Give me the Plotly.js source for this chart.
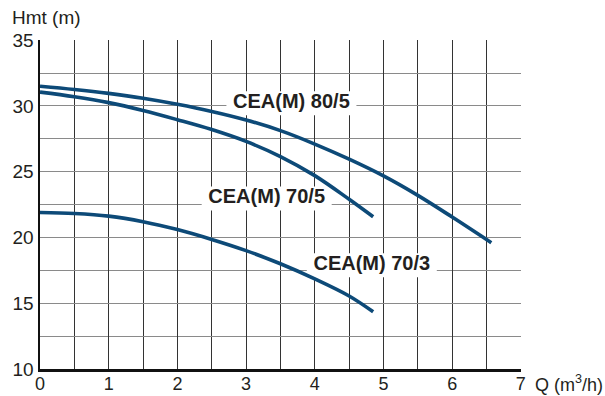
<!DOCTYPE html>
<html>
<head>
<meta charset="utf-8">
<script src="https://cdn.plot.ly/plotly-3.0.1.min.js"></script>
<style>html,body{margin:0;padding:0;background:#fff;}#chart{width:605px;height:396px;}</style>
</head>
<body>
<div id="chart"></div>
<script>
// Data: Q (m3/h) vs Hmt (m)
var q80_5 = [0, 0.5, 1, 1.5, 2, 2.5, 3, 3.5, 4, 4.5, 5, 5.5, 6, 6.57];
var h80_5 = [31.5, 31.25, 30.95, 30.58, 30.12, 29.58, 28.93, 28.12, 27.1, 25.95, 24.68, 23.2, 21.55, 19.6];

var q70_5 = [0, 0.5, 1, 1.5, 2, 2.5, 3, 3.5, 4, 4.5, 4.85];
var h70_5 = [31.05, 30.7, 30.25, 29.65, 28.95, 28.2, 27.3, 26.15, 24.7, 22.9, 21.57];

var q70_3 = [0, 0.5, 1, 1.5, 2, 2.5, 3, 3.5, 4, 4.5, 4.85];
var h70_3 = [21.9, 21.82, 21.62, 21.2, 20.6, 19.85, 19.0, 18.0, 16.85, 15.55, 14.35];

var seriesNames = ["CEA(M) 80/5", "CEA(M) 70/5", "CEA(M) 70/3"];
var labelQ = [3.66, 3.30, 4.83];
var labelH = [30.2, 22.97, 17.88];

var xTicks = [0, 1, 2, 3, 4, 5, 6, 7];
var yTicks = [10, 15, 20, 25, 30, 35];

var FONT = "Liberation Sans, Arial, sans-serif";
var lineColor = "#0d4a78";
function curve(x, y, name) {
  return {x: x, y: y, name: name, type: "scatter", mode: "lines",
          line: {color: lineColor, width: 3.6, shape: "spline", smoothing: 1}, hoverinfo: "skip"};
}

var labelTrace = {x: labelQ, y: labelH, type: "scatter", mode: "text", text: seriesNames,
  textposition: "middle center", hoverinfo: "skip",
  textfont: {family: FONT, size: 20, weight: 700, color: "#231f20"}};

var data = [labelTrace, curve(q80_5, h80_5, seriesNames[0]), curve(q70_5, h70_5, seriesNames[1]), curve(q70_3, h70_3, seriesNames[2])];

// white boxes behind the labels, interrupting grid lines only
var shapes = labelQ.map(function (q, i) {
  return {type: "rect", xref: "x", yref: "y", layer: "between",
          xsizemode: "pixel", xanchor: q, x0: -65, x1: 65,
          ysizemode: "pixel", yanchor: labelH[i], y0: -12, y1: 12,
          fillcolor: "#ffffff", line: {width: 0}};
});

var annotations = [
  {xref: "paper", yref: "paper", x: -0.0624, y: 1.067, xanchor: "left", yanchor: "middle",
   text: "Hmt (m)", showarrow: false, font: {family: FONT, size: 19, color: "#231f20"}},
  {xref: "paper", yref: "paper", x: 1.024, y: -0.043, xanchor: "left", yanchor: "middle",
   text: "Q (m<sup>3</sup>/h)", showarrow: false, font: {family: FONT, size: 18, color: "#231f20"}}
];

var layout = {
  width: 605, height: 396,
  margin: {l: 40, r: 84, t: 40, b: 27, pad: 0},
  paper_bgcolor: "#ffffff", plot_bgcolor: "#ffffff",
  showlegend: false,
  font: {family: FONT, size: 19, color: "#231f20"},
  xaxis: {range: [0, 7.002], tickmode: "array", tickvals: xTicks, ticktext: xTicks.map(String),
          tickfont: {family: FONT, size: 18, color: "#231f20"}, ticklabelstandoff: -3,
          showgrid: true, gridcolor: "#333333", gridwidth: 1,
          minor: {dtick: 0.5, showgrid: true, gridcolor: "#333333", gridwidth: 1},
          showline: true, linecolor: "#111111", linewidth: 2.5, zeroline: false, ticks: "", fixedrange: true},
  yaxis: {range: [10, 35.01], tickmode: "array", tickvals: yTicks, ticktext: yTicks.map(String),
          showgrid: true, gridcolor: "#8a8a8a", gridwidth: 1,
          minor: {dtick: 2.5, showgrid: true, gridcolor: "#8a8a8a", gridwidth: 1},
          showline: true, linecolor: "#111111", linewidth: 2.5, zeroline: false, ticks: "", fixedrange: true},
  shapes: shapes,
  annotations: annotations
};

Plotly.newPlot("chart", data, layout, {staticPlot: true, displayModeBar: false});
</script>
</body>
</html>
